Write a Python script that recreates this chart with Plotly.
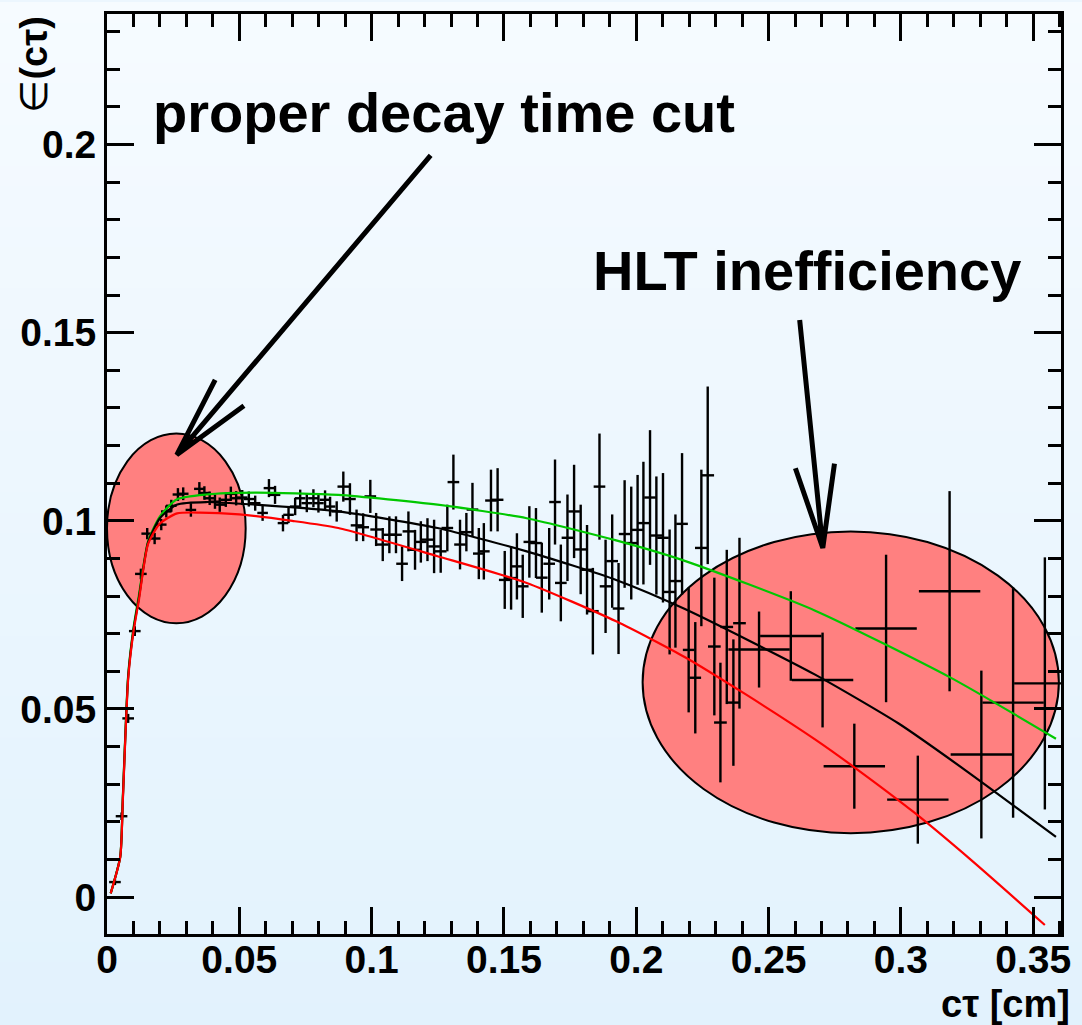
import plotly.graph_objects as go

# ---------------- data ----------------
x_pts = [0.0030, 0.0055, 0.0080, 0.0105, 0.0128, 0.0152, 0.0180, 0.0205, 0.0224, 0.0243,
         0.0268, 0.0288, 0.0317, 0.0349, 0.0368, 0.0388, 0.0408, 0.0426, 0.0449, 0.0468,
         0.0488, 0.0511, 0.0536, 0.0560, 0.0588, 0.0612, 0.0635, 0.0665, 0.0686, 0.0711,
         0.0730, 0.0755, 0.0780, 0.0799, 0.0824, 0.0843, 0.0868, 0.0893, 0.0918, 0.0943,
         0.0968, 0.0995, 0.1017, 0.1042, 0.1067, 0.1092, 0.1115, 0.1139, 0.1164, 0.1186,
         0.1211, 0.1236, 0.1261, 0.1286, 0.1309, 0.1334, 0.1358, 0.1381, 0.1405, 0.1424,
         0.1451, 0.1476, 0.1503, 0.1527, 0.1549, 0.1571, 0.1596, 0.1621, 0.1643, 0.1671,
         0.1693, 0.1715, 0.1740, 0.1765, 0.1790, 0.1814, 0.1836, 0.1861, 0.1884, 0.1909,
         0.1933, 0.1956, 0.1981, 0.2005, 0.2027, 0.2052, 0.2076, 0.2101, 0.2126, 0.2148,
         0.2173, 0.2198, 0.2223, 0.2246, 0.2270, 0.2295, 0.2318, 0.2342, 0.2367, 0.2390,
         0.2464, 0.2584, 0.2704, 0.2824, 0.2944, 0.3064, 0.3184, 0.3304, 0.3424, 0.3544]
y_pts = [0.0040, 0.0215, 0.0475, 0.0707, 0.0859, 0.0966, 0.0953, 0.0990, 0.1025, 0.1040,
         0.1070, 0.1072, 0.1029, 0.1085, 0.1074, 0.1060, 0.1051, 0.1043, 0.1056, 0.1072,
         0.1060, 0.1062, 0.1058, 0.1047, 0.1021, 0.1087, 0.1069, 0.0994, 0.1016, 0.1038,
         0.1060, 0.1047, 0.1060, 0.1047, 0.1056, 0.1038, 0.1025, 0.1091, 0.1058, 0.0988,
         0.0983, 0.1065, 0.0977, 0.0937, 0.0963, 0.0963, 0.0886, 0.0972, 0.0923, 0.0944,
         0.0950, 0.0932, 0.0919, 0.0981, 0.1103, 0.0937, 0.0970, 0.1030, 0.0913, 0.0919,
         0.1054, 0.1056, 0.0843, 0.0848, 0.0879, 0.0826, 0.0944, 0.0941, 0.0849, 0.0886,
         0.1050, 0.0835, 0.0955, 0.1025, 0.0924, 0.0870, 0.0760, 0.1091, 0.0826, 0.0893,
         0.0767, 0.0965, 0.0941, 0.0976, 0.0994, 0.1062, 0.0961, 0.0955, 0.0811, 0.0840,
         0.0992, 0.0657, 0.0583, 0.0928, 0.1121, 0.0666, 0.0464, 0.0718, 0.0517, 0.0728,
         0.0658, 0.0694, 0.0577, 0.0348, 0.0714, 0.0259, 0.0813, 0.0379, 0.0517, 0.0568]
ex_pts = [0.0022] * 7 + [0.0020] * 30 + [0.0022] * 56 + [0.0024] * 7 + [0.0116] * 10
ey_pts = [0.0008, 0.0010, 0.0012, 0.0013, 0.0014, 0.0015, 0.0015, 0.0015, 0.0016, 0.0016,
          0.0017, 0.0017, 0.0018, 0.0018, 0.0018, 0.0018, 0.0019, 0.0019, 0.0019, 0.0019,
          0.0019, 0.0020, 0.0020, 0.0020, 0.0021, 0.0024, 0.0024, 0.0022, 0.0022, 0.0023,
          0.0023, 0.0024, 0.0024, 0.0025, 0.0025, 0.0026, 0.0027, 0.0040, 0.0042, 0.0042,
          0.0037, 0.0044, 0.0044, 0.0044, 0.0049, 0.0049, 0.0046, 0.0053, 0.0053, 0.0055,
          0.0057, 0.0071, 0.0057, 0.0062, 0.0073, 0.0066, 0.0051, 0.0071, 0.0068, 0.0075,
          0.0082, 0.0084, 0.0077, 0.0084, 0.0088, 0.0084, 0.0095, 0.0093, 0.0093, 0.0095,
          0.0113, 0.0102, 0.0115, 0.0124, 0.0119, 0.0119, 0.0115, 0.0141, 0.0124, 0.0124,
          0.0121, 0.0143, 0.0150, 0.0146, 0.0163, 0.0179, 0.0157, 0.0172, 0.0166, 0.0177,
          0.0188, 0.0166, 0.0148, 0.0208, 0.0236, 0.0183, 0.0159, 0.0205, 0.0168, 0.0227,
          0.0101, 0.0119, 0.0126, 0.0113, 0.0196, 0.0117, 0.0266, 0.0223, 0.0306, 0.0335]

# fit curves
black_x = [0.0014, 0.005, 0.006, 0.008, 0.010, 0.012, 0.0155, 0.020, 0.0263, 0.0375,
           0.056, 0.0874, 0.1249, 0.1586, 0.1924, 0.2186, 0.2674, 0.2990, 0.3248, 0.3586]
black_y = [0.001, 0.0107, 0.0265, 0.0585, 0.0710, 0.0793, 0.0942, 0.1007, 0.1043, 0.1050,
           0.1043, 0.1025, 0.0981, 0.0919, 0.0843, 0.0765, 0.0592, 0.0462, 0.0335, 0.0160]
green_x = [0.0014, 0.005, 0.006, 0.008, 0.010, 0.012, 0.0155, 0.020, 0.0263, 0.0375,
           0.056, 0.0874, 0.1249, 0.1586, 0.1924, 0.2186, 0.2674, 0.3186, 0.3586]
green_y = [0.001, 0.0108, 0.0270, 0.0590, 0.0715, 0.0800, 0.0945, 0.1012, 0.1057, 0.1070,
           0.1075, 0.1069, 0.1043, 0.1007, 0.0948, 0.0893, 0.0762, 0.0584, 0.0421]
red_x = [0.0014, 0.005, 0.006, 0.008, 0.010, 0.012, 0.0155, 0.020, 0.0265, 0.035,
         0.050, 0.070, 0.0874, 0.1249, 0.1586, 0.1924, 0.2186, 0.2411, 0.2674, 0.2824,
         0.3050, 0.3268, 0.3544]
red_y = [0.001, 0.0106, 0.0260, 0.0580, 0.0705, 0.0787, 0.0938, 0.0993, 0.1020, 0.1022,
         0.1017, 0.1000, 0.0981, 0.0906, 0.0835, 0.0733, 0.0637, 0.0540, 0.0420, 0.0345,
         0.0225, 0.0097, -0.0074]

x_tickvals = [0, 0.05, 0.1, 0.15, 0.2, 0.25, 0.3, 0.35]
x_ticktext = ["0", "0.05", "0.1", "0.15", "0.2", "0.25", "0.3", "0.35"]
y_tickvals = [0, 0.05, 0.1, 0.15, 0.2]
y_ticktext = ["0", "0.05", "0.1", "0.15", "0.2"]

# ---------------- figure ----------------
W, H = 1082, 1025
ML, MR, MT, MB = 107, 14, 11, 91
PW, PH = W - ML - MR, H - MT - MB
FONT = "Liberation Sans, Arial, Helvetica, sans-serif"

fig = go.Figure()

fig.add_trace(go.Scatter(
    x=x_pts, y=y_pts, mode="markers",
    marker=dict(size=2, color="black"),
    error_x=dict(type="data", array=ex_pts, symmetric=True, color="black", thickness=2.4, width=0),
    error_y=dict(type="data", array=ey_pts, symmetric=True, color="black", thickness=2.4, width=0),
    hoverinfo="skip"))
curve_line = dict(width=2.2, shape="spline", smoothing=0.6)
fig.add_trace(go.Scatter(x=green_x, y=green_y, mode="lines", line=dict(color="#00c800", **curve_line)))
fig.add_trace(go.Scatter(x=black_x, y=black_y, mode="lines", line=dict(color="black", **curve_line)))
fig.add_trace(go.Scatter(x=red_x, y=red_y, mode="lines", line=dict(color="#ff0000", **curve_line)))

shapes = []
# background vertical gradient (whole canvas)
n = 50
top_c = (246, 251, 255)
bot_c = (226, 242, 253)
for i in range(n):
    t = (i + 0.5) / n
    c = tuple(round(top_c[k] + (bot_c[k] - top_c[k]) * t) for k in range(3))
    py0 = i * H / n - 1
    py1 = (i + 1) * H / n + 1
    shapes.append(dict(type="rect", xref="paper", yref="paper",
                       x0=-ML / PW - 0.01, x1=1 + MR / PW + 0.01,
                       y0=(H - MB - py1) / PH, y1=(H - MB - py0) / PH,
                       fillcolor="rgb(%d,%d,%d)" % c, line=dict(width=0), layer="below"))
# ellipses
shapes.append(dict(type="circle", xref="x", yref="y", x0=0.0, x1=0.0524, y0=0.0728, y1=0.1232,
                   fillcolor="rgb(255,128,128)", line=dict(color="black", width=2), layer="below"))
shapes.append(dict(type="circle", xref="x", yref="y", x0=0.2024, x1=0.3597, y0=0.0170, y1=0.0972,
                   fillcolor="rgb(255,128,128)", line=dict(color="black", width=2), layer="below"))
# arrows (open heads)
shapes.append(dict(type="path", xref="x", yref="y",
                   path="M 0.1223,0.1971 L 0.02637,0.11754 M 0.04088,0.13748 L 0.02637,0.11754 L 0.05175,0.1306",
                   line=dict(color="black", width=5), layer="above"))
shapes.append(dict(type="path", xref="x", yref="y",
                   path="M 0.26175,0.15338 L 0.27049,0.0928 M 0.26013,0.11399 L 0.27049,0.0928 L 0.2749,0.11523",
                   line=dict(color="black", width=5), layer="above"))

annotations = [
    dict(text="<b>proper decay time cut</b>", xref="paper", yref="paper",
         x=(151 - ML) / PW, y=(H - MB - 110) / PH, xanchor="left", yanchor="middle",
         showarrow=False, font=dict(family=FONT, size=56, color="black")),
    dict(text="<b>HLT inefficiency</b>", xref="paper", yref="paper",
         x=(595 - ML) / PW, y=(H - MB - 268) / PH, xanchor="left", yanchor="middle",
         showarrow=False, font=dict(family=FONT, size=56, color="black")),
    dict(text="∈<b>(cτ)</b>", xref="paper", yref="paper", textangle=-90,
         x=(33 - ML) / PW, y=(H - MB - 12) / PH, xanchor="center", yanchor="top",
         showarrow=False, font=dict(family=FONT, size=38, color="black")),
    dict(text="<b>cτ [cm]</b>", xref="paper", yref="paper",
         x=1.0 + 10 / PW, y=(H - MB - 1004) / PH, xanchor="right", yanchor="middle",
         showarrow=False, font=dict(family=FONT, size=38, color="black"), borderpad=0),
]

axis_common = dict(
    showline=True, linecolor="black", linewidth=3, mirror="allticks",
    ticks="inside", ticklen=27, tickwidth=2.5, tickcolor="black",
    showgrid=False, zeroline=False, tickmode="array",
    tickfont=dict(family=FONT, size=39, color="black", weight="bold"),
    minor=dict(dtick=0.01, tick0=0, ticks="inside", ticklen=13, tickwidth=2.5,
               tickcolor="black", showgrid=False),
)

fig.update_layout(
    width=W, height=H, autosize=False,
    margin=dict(l=ML, r=MR, t=MT, b=MB, pad=0),
    paper_bgcolor="rgb(236,246,254)", plot_bgcolor="rgba(0,0,0,0)",
    showlegend=False,
    xaxis=dict(range=[0, 0.3605], tickvals=x_tickvals, ticktext=x_ticktext,
               ticklabelstandoff=-11, **axis_common),
    yaxis=dict(range=[-0.0098, 0.2347], tickvals=y_tickvals, ticktext=y_ticktext,
               **axis_common),
    shapes=shapes, annotations=annotations,
)

fig.write_html("out.html")
